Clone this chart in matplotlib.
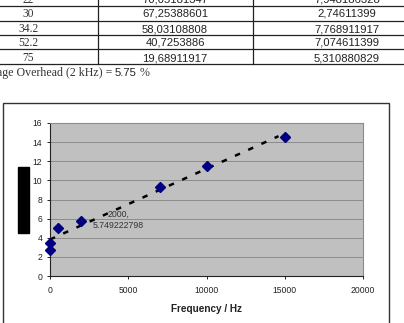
import numpy as np
from matplotlib import pyplot as plt
from matplotlib.patches import Rectangle

# table rows (document part above the chart)
col_rate = ["22", "30", "34.2", "52.2", "75"]
col_a = ["70,05181347", "67,25388601", "58,03108808", "40,7253886", "19,68911917"]
col_b = ["7,948186328", "2,74611399", "7,768911917", "7,074611399", "5,310880829"]
row_y = [0, 14, 29, 42.7, 58.3]
row_lines = [6, 20.5, 34.5, 49, 63.5]

# chart data
freq = [0, 0, 500, 2000, 7000, 10000, 15000]
overhead = [2.7, 3.5, 5.0, 5.749222798, 9.3, 11.5, 14.5]
label_idx = 3

W, H = 404, 323
fig = plt.figure(figsize=(W / 100, H / 100), dpi=100)


def fx(x):
    return x / W


def fy(y):
    return 1 - y / H


# table
for y in row_lines:
    fig.add_artist(plt.Line2D([0, 1], [fy(y), fy(y)], color="#222222", lw=0.9))
for x in [98, 253]:
    fig.add_artist(plt.Line2D([fx(x), fx(x)], [fy(-5), fy(row_lines[-1])], color="#222222", lw=0.9))

for i in range(len(col_rate)):
    fig.text(fx(28), fy(row_y[i]), col_rate[i], ha="center", va="center",
             family="Liberation Serif", fontsize=8.3, color="#333333")
    fig.text(fx(175), fy(row_y[i]), col_a[i], ha="center", va="center",
             family="Liberation Sans", fontsize=8.1, color="#222222")
    fig.text(fx(347), fy(row_y[i]), col_b[i], ha="center", va="center",
             family="Liberation Sans", fontsize=8.1, color="#222222")

fig.text(fx(112), fy(73), "Average Overhead (2 kHz) =", ha="right", va="center",
         family="Liberation Serif", fontsize=8.6, color="#333333")
fig.text(fx(115), fy(73), "5.75", ha="left", va="center",
         family="Liberation Sans", fontsize=8.1, color="#222222")
fig.text(fx(140), fy(73), "%", ha="left", va="center",
         family="Liberation Serif", fontsize=8.6, color="#333333")

# chart frame
fig.add_artist(Rectangle((fx(3), fy(340)), fx(386), (340 - 103) / H,
                         transform=fig.transFigure, fill=False,
                         edgecolor="#333333", lw=1.0))
# the broken y-axis title shows as a black block
fig.add_artist(Rectangle((fx(18), fy(233)), fx(11), 66 / H,
                         transform=fig.transFigure, color="black"))

ax = fig.add_axes([fx(50), fy(276), fx(313), (276 - 123) / H])
ax.set_facecolor("#c0c0c0")
ax.set_xlim(0, 20000)
ax.set_ylim(0, 16)
ax.set_xticks(np.arange(0, 20001, 5000))
ax.set_yticks(np.arange(0, 17, 2))
ax.grid(axis="y", color="#8c8c8c", lw=0.7)
ax.set_axisbelow(True)
for s in ["top", "right"]:
    ax.spines[s].set_color("#8c8c8c")
for s in ["left", "bottom"]:
    ax.spines[s].set_color("#222222")
    ax.spines[s].set_linewidth(0.8)
ax.tick_params(direction="out", length=2.5, width=0.7, labelsize=6.2,
               labelcolor="#222222", color="#222222")
ax.tick_params(axis="y", pad=3)
ax.tick_params(axis="x", pad=5)
for t in ax.get_xticklabels() + ax.get_yticklabels():
    t.set_family("Liberation Sans")

# linear trendline
k, b = np.polyfit(freq, overhead, 1)
tx = np.array([min(freq), max(freq) - 400])
ax.plot(tx, k * tx + b, color="black", lw=1.8, dashes=(2.2, 3.6))

ax.plot(freq, overhead, "D", color="#000080", markersize=5.5, clip_on=False, zorder=5)

ax.annotate(f"{freq[label_idx]},\n{overhead[label_idx]}",
            xy=(freq[label_idx], overhead[label_idx]), xytext=(37, 1),
            textcoords="offset pixels", ha="center", va="center",
            fontsize=6.3, family="Liberation Sans", color="#333333",
            linespacing=1.3)

ax.set_xlabel("Frequency / Hz", fontsize=7.2, fontweight="bold",
              family="Liberation Sans", labelpad=6, color="#222222")

fig.savefig("out.png", dpi=100)
